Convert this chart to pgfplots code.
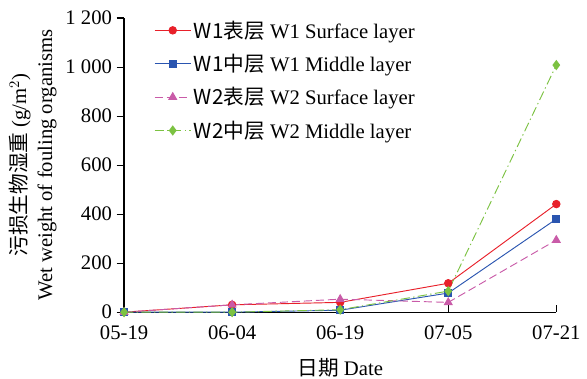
\documentclass[border=0pt]{standalone}
\usepackage{fontspec}
\setmainfont{Liberation Serif}
\newfontfamily\cjk{Noto Sans CJK SC}
\usepackage{pgfplots}
\pgfplotsset{compat=1.18}
\definecolor{cred}{HTML}{E8202A}
\definecolor{cblue}{HTML}{2A55B0}
\definecolor{cpink}{HTML}{C95BA8}
\definecolor{cgreen}{HTML}{7CC242}
\begin{document}
\begin{tikzpicture}
\begin{axis}[
  scale only axis,
  width=324pt, height=220.5pt,
  xmin=0, xmax=4, ymin=0, ymax=1200,
  axis lines=left,
  axis line style={-, line width=0.9pt},
  xtick={0,1,2,3,4},
  xticklabels={05-19,06-04,06-19,07-05,07-21},
  ytick={0,200,400,600,800,1000,1200},
  yticklabels={0,200,400,600,800,1\kern0.25em000,1\kern0.25em200},
  major tick length=5.5pt,
  tick style={line width=0.8pt, black},
  xtick align=inside, ytick align=outside,
  tick label style={font=\fontsize{15.5}{18}\selectfont},
  xticklabel style={yshift=-6.5pt},
  xlabel={{\cjk 日期} Date},
  xlabel style={font=\fontsize{15.5}{18}\selectfont, at={(axis description cs:0.5,-0.19)}, anchor=center},
  ylabel={{\cjk 污损生物湿重} (g/m$^2$)\\Wet weight of fouling organisms},
  ylabel style={font=\fontsize{15.5}{19.5}\selectfont, align=center, at={(axis description cs:-0.145,0.5)}, anchor=south},
  legend style={at={(axis description cs:0.06,1.01)}, anchor=north west, draw=none, fill=none,
    font=\fontsize{15.5}{18}\selectfont, row sep=6.5pt, legend cell align=left},
  legend image code/.code={\draw[mark repeat=2,mark phase=2] plot coordinates {(0pt,0pt) (13.5pt,0pt) (27pt,0pt)};},
  clip=false,
]
\addplot[color=cred, line width=0.7pt, mark=*, mark size=2.8pt] coordinates {(0,0) (1,30) (2,40) (3,118) (4,441)};
\addlegendentry{{\cjk W1表层} W1 Surface layer}
\addplot[color=cblue, line width=0.7pt, mark=square*, mark size=2.7pt] coordinates {(0,0) (1,0) (2,8) (3,78) (4,380)};
\addlegendentry{{\cjk W1中层} W1 Middle layer}
\addplot[color=cpink, line width=0.7pt, dash pattern=on 6pt off 3pt, mark=triangle*, mark size=3.3pt, mark options={solid}] coordinates {(0,0) (1,30) (2,53) (3,40) (4,294)};
\addlegendentry{{\cjk W2表层} W2 Surface layer}
\addplot[color=cgreen, line width=0.7pt, dash pattern=on 7pt off 2.5pt on 1pt off 2.5pt, mark=diamond*, mark size=3.3pt, mark options={solid}] coordinates {(0,0) (1,0) (2,10) (3,86) (4,1008)};
\addlegendentry{{\cjk W2中层} W2 Middle layer}
\end{axis}
\pgfresetboundingbox
\path[use as bounding box] (-93pt,-50pt) rectangle (347pt,234pt);
\end{tikzpicture}
\end{document}
